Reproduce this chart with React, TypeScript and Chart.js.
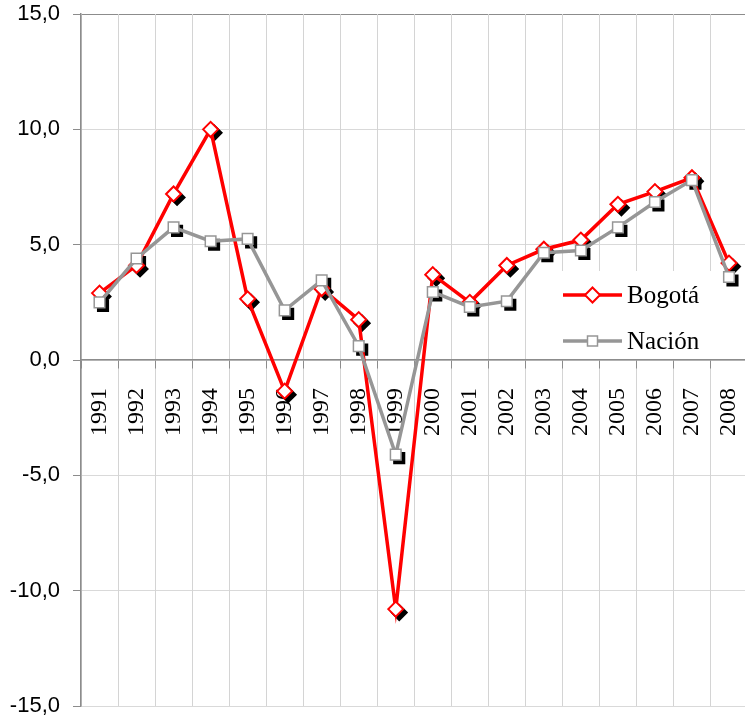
import React, { useEffect, useRef } from 'react';
import { Chart, registerables } from 'chart.js';

Chart.register(...registerables);

const years = ['1991', '1992', '1993', '1994', '1995', '1996', '1997', '1998', '1999', '2000', '2001', '2002', '2003', '2004', '2005', '2006', '2007', '2008'];
const bogota = [2.9, 4.1, 7.2, 10.0, 2.65, -1.35, 3.1, 1.75, -10.8, 3.7, 2.5, 4.1, 4.8, 5.2, 6.75, 7.3, 7.9, 4.2];
const nacion = [2.5, 4.4, 5.75, 5.15, 5.25, 2.15, 3.45, 0.6, -4.1, 2.95, 2.3, 2.55, 4.65, 4.75, 5.75, 6.85, 7.8, 3.6];
const seriesNames = ['Bogotá', 'Nación'];
const seriesColors = ['#ff0000', '#969696'];
const yMin = -15;
const yMax = 15;
const yStep = 5;

const SHADOW_DX = 3.5;
const SHADOW_DY = 3.5;

const shadowPlugin = {
  id: 'markerShadow',
  beforeDatasetDraw(chart: any, args: any) {
    const ds = chart.data.datasets[args.index];
    if (ds.isShadow) {
      chart.ctx.save();
      chart.ctx.translate(SHADOW_DX, SHADOW_DY);
    }
  },
  afterDatasetDraw(chart: any, args: any) {
    const ds = chart.data.datasets[args.index];
    if (ds.isShadow) chart.ctx.restore();
  },
};

const legendBox = { x: 527, y: 271, w: 186, h: 88 };

const legendPlugin = {
  id: 'insideLegend',
  beforeDatasetsDraw(chart: any) {
    const ctx = chart.ctx;
    ctx.save();
    ctx.fillStyle = '#ffffff';
    ctx.fillRect(legendBox.x, legendBox.y, legendBox.w, legendBox.h);
    ctx.restore();
  },
  afterDatasetsDraw(chart: any) {
    const ctx = chart.ctx;
    const rows = [295, 341];
    const x0 = 563;
    const x1 = 622;
    const cx = (x0 + x1) / 2;
    ctx.save();
    seriesNames.forEach((name, i) => {
      const y = rows[i];
      ctx.strokeStyle = seriesColors[i];
      ctx.lineWidth = 3.5;
      ctx.beginPath();
      ctx.moveTo(x0, y);
      ctx.lineTo(x1, y);
      ctx.stroke();
      ctx.fillStyle = '#ffffff';
      ctx.beginPath();
      if (i === 0) {
        const r = 7.5;
        ctx.moveTo(cx, y - r);
        ctx.lineTo(cx + r, y);
        ctx.lineTo(cx, y + r);
        ctx.lineTo(cx - r, y);
        ctx.closePath();
        ctx.lineWidth = 2;
      } else {
        const s = 10;
        ctx.rect(cx - s / 2, y - s / 2, s, s);
        ctx.lineWidth = 1.5;
      }
      ctx.fill();
      ctx.stroke();
      ctx.fillStyle = '#000000';
      ctx.font = '25px "Liberation Serif"';
      ctx.textAlign = 'left';
      ctx.textBaseline = 'middle';
      ctx.fillText(name, 627, y + 1);
    });
    ctx.restore();
  },
};

function zeroPadding(scale: any) {
  scale.paddingLeft = 0;
  scale.paddingRight = 0;
  scale.paddingTop = 0;
  scale.paddingBottom = 0;
}

export default function App() {
  const canvasRef = useRef<HTMLCanvasElement | null>(null);

  useEffect(() => {
    const canvas = canvasRef.current;
    if (!canvas) return;
    const series = [bogota, nacion];
    const styles = ['rectRot', 'rect'];
    const radii = [7.5, 7.5];
    const bw = [2, 1.5];

    const shadowSets = series.map((data, i) => ({
      label: seriesNames[i] + ' shadow',
      data,
      isShadow: true,
      showLine: false,
      pointStyle: styles[i],
      pointRadius: radii[i],
      pointBackgroundColor: '#000000',
      pointBorderColor: '#000000',
      pointBorderWidth: bw[i],
      borderColor: '#000000',
      order: 3 + i,
      xAxisID: 'x',
      yAxisID: 'y',
    }));

    const lineSets = series.map((data, i) => ({
      label: seriesNames[i],
      data,
      borderColor: seriesColors[i],
      borderWidth: 3.5,
      tension: 0,
      pointStyle: styles[i],
      pointRadius: radii[i],
      pointBackgroundColor: '#ffffff',
      pointBorderColor: seriesColors[i],
      pointBorderWidth: bw[i],
      order: 1 - i,
      xAxisID: 'x',
      yAxisID: 'y',
    }));

    const chart = new Chart(canvas, {
      type: 'line',
      data: {
        labels: years,
        datasets: [...lineSets, ...shadowSets] as any,
      },
      options: {
        responsive: false,
        animation: false,
        events: [],
        layout: { padding: { top: 14, bottom: 14, left: 0, right: 0 } },
        plugins: {
          legend: { display: false },
          tooltip: { enabled: false },
        },
        scales: {
          y: {
            type: 'linear',
            position: 'left',
            min: yMin,
            max: yMax,
            afterFit(scale: any) {
              scale.width = 81;
              zeroPadding(scale);
            },
            ticks: {
              stepSize: yStep,
              padding: 13,
              color: '#000000',
              font: { family: '"Liberation Sans"', size: 22 },
              callback: (v: any) => Number(v).toFixed(1).replace('.', ','),
            },
            grid: {
              color: (c: any) => (c.tick && c.tick.value === yMax ? '#8c8c8c' : '#d9d9d9'),
              tickColor: '#8c8c8c',
              tickLength: 8,
              lineWidth: 1,
            },
            border: { color: '#8c8c8c', width: 1.5 },
          },
          x: {
            type: 'category',
            position: { y: 0 } as any,
            offset: true,
            afterFit: zeroPadding,
            ticks: { display: false },
            grid: {
              offset: true,
              color: '#d4d4d4',
              tickColor: '#8c8c8c',
              tickLength: 8,
            },
            border: { color: '#8c8c8c', width: 1.5 },
          },
          x2: {
            type: 'category',
            labels: years,
            position: { y: 0 } as any,
            offset: true,
            z: 1,
            afterFit: zeroPadding,
            grid: { display: false, drawTicks: false },
            border: { display: false },
            ticks: {
              autoSkip: false,
              minRotation: 90,
              maxRotation: 90,
              padding: 28,
              color: '#000000',
              font: { family: '"Liberation Serif"', size: 24 },
            },
          },
        },
      } as any,
      plugins: [shadowPlugin, legendPlugin],
    });
    return () => chart.destroy();
  }, []);

  return (
    <div style={{ position: 'fixed', left: 0, top: 0, width: 745, height: 720, overflow: 'hidden', background: '#ffffff' }}>
      <canvas ref={canvasRef} width={757} height={720} style={{ display: 'block', width: 757, height: 720 }} />
    </div>
  );
}
